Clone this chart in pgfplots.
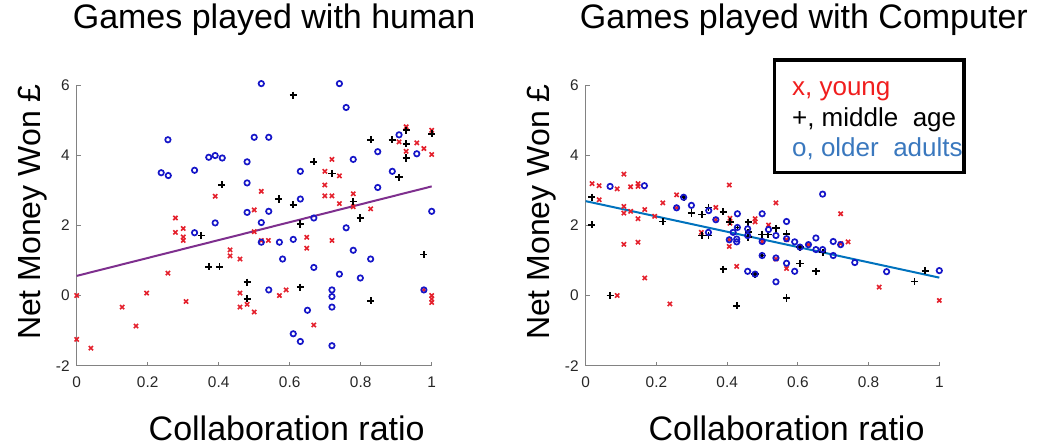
\documentclass[border=0pt]{standalone}
\usepackage{fontspec}
\setmainfont{Liberation Sans}
\usepackage{pgfplots}
\pgfplotsset{compat=1.18}

\definecolor{young}{RGB}{228,32,44}
\definecolor{older}{RGB}{22,22,200}
\definecolor{fitpurple}{RGB}{126,47,142}
\definecolor{fitblue}{RGB}{0,114,189}
\definecolor{legred}{RGB}{240,30,30}
\definecolor{legblue}{RGB}{58,120,190}
\definecolor{axgray}{RGB}{130,130,130}

\newcommand{\ticksize}{\fontsize{7.7bp}{9bp}\selectfont}
\newcommand{\labsize}{\fontsize{17bp}{20bp}\selectfont}
\newcommand{\ylabsize}{\fontsize{16bp}{19bp}\selectfont}

\pgfplotsset{
  panel/.style={
    scale only axis, height=140.35bp,
    xmin=0, xmax=1, ymin=-2, ymax=6,
    axis x line*=bottom, axis y line*=left,
    axis line style={-, draw=axgray, line width=0.5bp},
    xtick={0,0.2,0.4,0.6,0.8,1}, ytick={-2,0,2,4,6},
    tick align=inside, major tick length=2bp,
    tick style={draw=axgray, line width=0.5bp},
    /pgf/number format/assume math mode=true,
    tick label style={font=\ticksize, text=black!85},
    xticklabel style={yshift=-2.2bp},
    clip=false,
    title style={font=\labsize, anchor=base},
    every axis x label/.style={font=\labsize, anchor=base, text depth=0pt, inner sep=0pt},
    every axis y label/.style={font=\ylabsize, rotate=90, anchor=base},
  },
  young/.style={only marks, mark=x, mark size=1.5bp, draw=young, line width=0.8bp},
  middle/.style={only marks, mark=+, mark size=1.8bp, draw=black, line width=0.9bp},
  older/.style={only marks, mark=o, mark size=1.35bp, draw=older, line width=0.85bp},
}

\begin{document}
\begin{tikzpicture}
\useasboundingbox (0,0) rectangle (519bp,222.5bp);

% ---------------- games played with a human partner ----------------
\begin{axis}[panel, width=177.5bp,
  at={(38.35bp,39.65bp)}, anchor=south west,
  title={Games played with human},
  title style={at={(0.556,1.1597)}},
  xlabel={Collaboration ratio},
  xlabel style={at={(0.5915,-0.266)}},
  ylabel={Net Money Won £},
  ylabel style={at={(-0.1006,0.547)}},
]
\addplot[young] table {
0.000 0.00
0.000 -1.25
0.040 -1.50
0.128 -0.33
0.167 -0.87
0.197 0.07
0.257 0.64
0.278 2.21
0.278 1.80
0.300 1.91
0.300 1.67
0.300 1.57
0.308 -0.17
0.390 2.83
0.432 1.30
0.432 1.13
0.460 1.04
0.460 0.07
0.460 -0.33
0.480 -0.25
0.500 -0.47
0.500 2.44
0.500 1.82
0.520 2.97
0.520 1.57
0.540 1.57
0.571 0.00
0.590 0.16
0.648 1.66
0.648 1.35
0.668 -0.84
0.719 3.88
0.699 3.54
0.699 3.15
0.699 2.84
0.719 2.84
0.740 3.41
0.740 2.62
0.719 1.57
0.779 2.90
0.779 2.53
0.828 2.47
0.928 4.81
0.908 4.38
0.928 4.11
0.958 4.35
0.978 4.19
1.000 4.02
1.000 4.71
0.978 0.16
1.000 0.00
1.000 -0.10
1.000 -0.20
};
\addplot[middle] table {
0.351 1.71
0.409 3.16
0.372 0.82
0.402 0.82
0.480 0.38
0.480 -0.09
0.569 2.75
0.610 2.59
0.630 2.04
0.630 0.24
0.610 5.71
0.668 3.81
0.719 3.48
0.779 2.68
0.799 2.21
0.828 4.44
0.828 -0.15
0.889 4.44
0.908 3.37
0.928 4.71
0.928 4.33
0.928 3.92
1.000 4.61
0.978 1.17
};
\addplot[older] table {
0.257 4.44
0.238 3.50
0.258 3.42
0.332 3.57
0.372 3.94
0.390 3.99
0.410 3.92
0.332 1.79
0.390 2.07
0.480 3.81
0.480 3.21
0.480 2.37
0.500 4.51
0.541 4.51
0.520 6.04
0.520 2.08
0.541 2.40
0.520 1.52
0.571 1.52
0.610 1.60
0.580 1.04
0.630 3.54
0.630 2.75
0.541 0.16
0.650 -0.42
0.610 -1.09
0.630 -1.31
0.740 6.04
0.759 5.36
0.779 3.88
0.848 4.10
0.908 4.58
0.958 4.04
0.889 3.54
0.848 3.08
0.668 2.21
0.759 1.93
0.779 1.29
0.828 1.04
0.668 0.80
0.740 0.61
0.799 0.50
0.719 0.16
0.719 -0.03
0.719 -0.33
0.719 -1.43
1.000 2.40
0.978 0.16
};
% least-squares fit
\addplot[fitpurple, line width=1bp] coordinates {(0,0.56) (1,3.11)};
\end{axis}

% ---------------- games played with the computer ----------------
\begin{axis}[panel, width=176.8bp,
  at={(292.85bp,39.65bp)}, anchor=south west,
  title={Games played with Computer},
  title style={at={(0.617,1.1597)}},
  xlabel={Collaboration ratio},
  xlabel style={at={(0.568,-0.266)}},
  ylabel={Net Money Won £},
  ylabel style={at={(-0.101,0.547)}},
]
\addplot[young] table {
0.018 3.19
0.038 3.13
0.038 2.73
0.089 3.04
0.108 3.46
0.127 3.10
0.108 2.54
0.108 2.35
0.127 2.40
0.148 3.19
0.148 3.11
0.148 2.19
0.167 2.45
0.108 1.46
0.148 1.52
0.167 0.50
0.089 0.00
0.195 2.26
0.218 2.64
0.238 -0.24
0.257 2.87
0.257 2.50
0.327 1.80
0.368 2.51
0.368 2.16
0.406 3.15
0.408 2.20
0.408 2.06
0.406 1.59
0.406 1.40
0.427 0.83
0.479 2.19
0.479 2.10
0.517 2.01
0.499 1.54
0.538 2.64
0.538 1.04
0.568 1.59
0.568 0.77
0.630 1.45
0.721 2.33
0.742 1.53
0.721 1.48
0.830 0.24
1.000 -0.14
};
\addplot[middle] table {
0.017 2.80
0.017 2.02
0.069 0.00
0.218 2.11
0.277 2.80
0.299 2.35
0.329 2.31
0.329 1.71
0.347 1.71
0.347 2.51
0.389 2.39
0.408 2.10
0.429 1.94
0.460 2.09
0.460 1.80
0.460 1.67
0.498 1.74
0.516 1.74
0.538 1.92
0.568 1.76
0.606 1.38
0.499 1.14
0.479 0.61
0.389 0.75
0.606 0.91
0.651 0.69
0.427 -0.29
0.568 -0.07
0.670 1.23
0.960 0.71
0.930 0.40
};
\addplot[older] table {
0.069 3.11
0.166 3.13
0.257 2.50
0.277 2.80
0.299 2.57
0.347 1.80
0.348 2.42
0.368 2.16
0.429 2.33
0.429 1.94
0.417 1.80
0.406 1.59
0.427 1.61
0.427 1.53
0.458 1.90
0.458 1.71
0.499 2.33
0.517 1.88
0.538 1.71
0.499 1.54
0.499 1.14
0.479 0.61
0.538 1.07
0.568 2.11
0.568 1.62
0.591 1.53
0.606 1.38
0.568 0.92
0.591 0.69
0.458 0.69
0.538 0.39
0.630 1.45
0.651 1.64
0.651 1.31
0.670 1.31
0.670 2.89
0.700 1.54
0.721 1.45
0.700 1.14
0.761 0.94
0.851 0.68
1.000 0.71
};
% least-squares fit
\addplot[fitblue, line width=1bp] coordinates {(0,2.69) (1,0.51)};

% key to the marker symbols
\draw[black, line width=1.75bp] (axis cs:0.534,6.706) rectangle (axis cs:1.0704,3.50);
\node[anchor=base west, inner sep=0, text=legred, font=\fontsize{13bp}{15bp}\selectfont]
  at (axis cs:0.5826,5.706) {x, young};
\node[anchor=base west, inner sep=0, text=black, font=\fontsize{13bp}{15bp}\selectfont]
  at (axis cs:0.5826,4.811) {+, middle\ \ age};
\node[anchor=base west, inner sep=0, text=legblue, font=\fontsize{13bp}{15bp}\selectfont]
  at (axis cs:0.5826,3.954) {o, older\ \ adults};
\end{axis}
\end{tikzpicture}
\end{document}
